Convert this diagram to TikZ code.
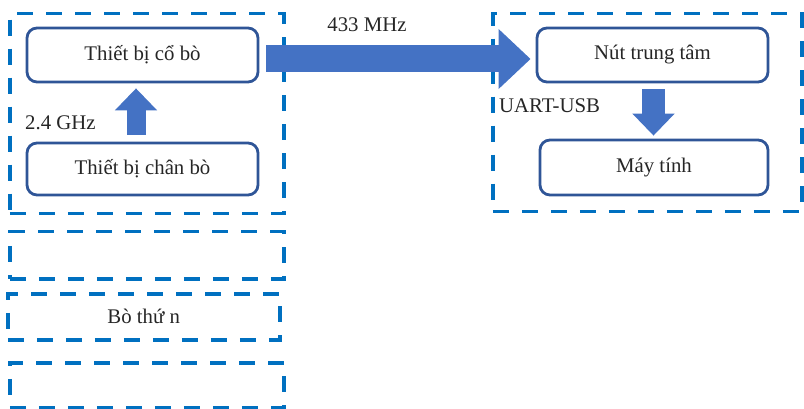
\documentclass[tikz,border=0pt]{standalone}
\usepackage{fontspec}
\setmainfont{Liberation Serif}
\usetikzlibrary{arrows.meta,positioning}
\definecolor{dashblue}{HTML}{0070C0}
\definecolor{boxblue}{HTML}{2F5597}
\definecolor{arrowblue}{HTML}{4472C4}
\tikzset{
  grp/.style={draw=dashblue, line width=3.5pt, dash pattern=on 16pt off 13pt, inner sep=0pt, anchor=north west},
  unit/.style={draw=boxblue, line width=2.8pt, rounded corners=10pt, fill=white, inner sep=0pt, font=\fontsize{20.8}{24}\selectfont, text=black!85},
  lbl/.style={font=\fontsize{20.8}{24}\selectfont, text=black!85, inner sep=0pt},
  blockarrow/.style={draw=arrowblue, line width=#1, line cap=butt},
}
\begin{document}
\begin{tikzpicture}[x=1pt,y=-1pt]
\useasboundingbox (0,0) rectangle (804,409);
% dashed groups
\node[grp, minimum width=274pt, minimum height=200pt] (gA) at (8,12) {};
\node[grp, minimum width=309pt, minimum height=198pt] (gB) at (491,12) {};
\node[grp, minimum width=274pt, minimum height=47pt] (g2) at (8,230) {};
\node[grp, minimum width=272pt, minimum height=46pt] (g3) at (6,292) {};
\node[grp, minimum width=274pt, minimum height=45pt] (g4) at (8,361) {};
\node[lbl] (bn) at (g3.center) {Bò thứ n};
% unit boxes
\node[unit, minimum width=231pt, minimum height=54pt] (co) at (142.5,55) {Thiết bị cổ bò};
\node[unit, minimum width=231pt, minimum height=52pt] (chan) at (142.5,169) {Thiết bị chân bò};
\node[unit, minimum width=231pt, minimum height=54pt] (nut) at (652.5,55) {Nút trung tâm};
\node[unit, minimum width=228pt, minimum height=55pt] (may) at (654,167.5) {Máy tính};
% arrows
\draw[blockarrow=19pt, -{Triangle[length=22pt, width=41pt]}, shorten <=7pt, shorten >=5pt]
  ([xshift=-6.5pt]chan.north) -- ([xshift=-6.5pt]co.south);
\draw[blockarrow=27pt, -{Triangle[length=32pt, width=58pt]}, shorten <=7pt, shorten >=5pt]
  ([yshift=-4pt]co.east) -- ([yshift=-4pt]nut.west);
\draw[blockarrow=23pt, -{Triangle[length=22pt, width=41pt]}, shorten <=6pt, shorten >=3pt]
  ([xshift=1pt]nut.south) -- ([xshift=-0.5pt]may.north);
% labels
\node[lbl, anchor=west] (ghz) at (25,123) {2.4 GHz};
\node[lbl] (mhz) at (367,25) {433 MHz};
\node[lbl, anchor=west] (uart) at (499,106) {UART-USB};
\end{tikzpicture}
\end{document}
